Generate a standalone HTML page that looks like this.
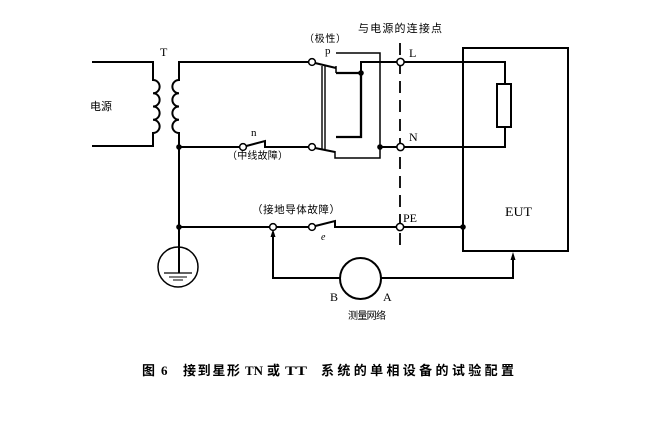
<!DOCTYPE html>
<html>
<head>
<meta charset="utf-8">
<style>
html,body{margin:0;padding:0;background:#fff;}
svg{display:block;}
.cjk{font-family:"Liberation Sans","Noto Sans CJK SC","WenQuanYi Zen Hei",sans-serif;}
.ser{font-family:"Liberation Serif","DejaVu Serif",serif;}
</style>
</head>
<body>
<svg width="666" height="431" viewBox="0 0 666 431" xmlns="http://www.w3.org/2000/svg">
<g fill="none" stroke="#000" stroke-width="2" stroke-linejoin="miter">
  <path d="M92,62 H153 V80 a6.6,6.6 0 0 1 0,13.25 a6.6,6.6 0 0 1 0,13.25 a6.6,6.6 0 0 1 0,13.25 a6.6,6.6 0 0 1 0,13.25 V146 H92"/>
  <path d="M308.5,62 H179 V80 a6.6,6.6 0 0 0 0,13.25 a6.6,6.6 0 0 0 0,13.25 a6.6,6.6 0 0 0 0,13.25 a6.6,6.6 0 0 0 0,13.25 V227"/>
  <path d="M179,147 H239.5"/>
  <path d="M246.3,146 L265,141 V147 H308.5"/>
  <path d="M315,63 L336,68"/>
  <path d="M336,66 V73" stroke-width="1.5"/>
  <path d="M336,73 H361 V137 H336" stroke-width="2.3"/>
  <path d="M361,73 V62 H396.5"/>
  <path d="M336,53 H380 V158 H335 V151" stroke-width="1.5"/>
  <path d="M315,148 L335,152"/>
  <path d="M380,147 H396.5"/>
  <path d="M322,66 V150 M325,66 V150" stroke-width="1.4"/>
  <path d="M400,43 V248" stroke-width="1.8" stroke-dasharray="12 7"/>
  <path d="M404.5,62 H505 V84"/>
  <rect x="497" y="84" width="14" height="43"/>
  <path d="M505,127 V147 H404.5"/>
  <rect x="463" y="48" width="105" height="203"/>
  <path d="M179,227 H269.5"/>
  <path d="M276.5,227 H308.5"/>
  <path d="M315.3,226 L335,221 V227 H396.5"/>
  <path d="M403.5,227 H463"/>
  <path d="M273,236 V278 H340"/>
  <circle cx="360.5" cy="278.5" r="20.5"/>
  <path d="M381,278 H513 V257"/>
  <path d="M179,227 V273"/>
  <circle cx="178" cy="267" r="20" stroke-width="1.5"/>
  <path d="M164,273 H192" stroke-width="1.3"/>
  <path d="M169,277 H187" stroke-width="1"/>
  <path d="M173,280 H183" stroke-width="1"/>
</g>
<g fill="#fff" stroke="#000" stroke-width="1.5">
  <circle cx="243" cy="147" r="3.4"/>
  <circle cx="312" cy="147" r="3.4"/>
  <circle cx="312" cy="62" r="3.4"/>
  <circle cx="400.5" cy="62" r="3.6"/>
  <circle cx="400.5" cy="147" r="3.6"/>
  <circle cx="273" cy="227" r="3.4"/>
  <circle cx="312" cy="227" r="3.4"/>
  <circle cx="400" cy="227" r="3.6"/>
</g>
<g fill="#000">
  <circle cx="179" cy="147" r="2.8"/>
  <circle cx="179" cy="227" r="2.8"/>
  <circle cx="361" cy="73" r="2.8"/>
  <circle cx="380" cy="147" r="2.8"/>
  <circle cx="463" cy="227" r="2.8"/>
  <path d="M273,229 L270.5,237 L275.5,237 Z"/>
  <path d="M513,252 L510.5,260 L515.5,260 Z"/>
</g>
<g fill="#000">
  <text class="ser" x="160" y="56" font-size="12">T</text>
  <text class="cjk" x="90" y="110" font-size="11" textLength="22" lengthAdjust="spacing">电源</text>
  <text class="ser" x="251" y="136" font-size="11">n</text>
  <text class="cjk" x="227" y="159" font-size="10" textLength="61" lengthAdjust="spacing">（中线故障）</text>
  <text class="ser" x="325" y="54" font-size="11">p</text>
  <text class="cjk" x="304" y="42" font-size="10" textLength="42" lengthAdjust="spacing">（极性）</text>
  <text class="cjk" x="358" y="32" font-size="11" textLength="84" lengthAdjust="spacing">与电源的连接点</text>
  <text class="ser" x="409" y="57" font-size="12">L</text>
  <text class="ser" x="409" y="141" font-size="12">N</text>
  <text class="ser" x="403" y="222" font-size="12">PE</text>
  <text class="ser" x="321" y="240" font-size="10" font-style="italic">e</text>
  <text class="cjk" x="252" y="213" font-size="10.5" textLength="88" lengthAdjust="spacing">（接地导体故障）</text>
  <text class="ser" x="505" y="216" font-size="12.5" textLength="27" lengthAdjust="spacingAndGlyphs">EUT</text>
  <text class="ser" x="330" y="301" font-size="12">B</text>
  <text class="ser" x="383" y="301" font-size="12">A</text>
  <text class="cjk" x="348" y="319" font-size="10" textLength="38" lengthAdjust="spacing">测量网络</text>
  <g class="cjk" font-size="13" font-weight="bold">
    <text x="142" y="375">图</text>
    <text x="161" y="375" class="ser" font-weight="bold">6</text>
    <text x="183" y="375" textLength="57" lengthAdjust="spacing">接到星形</text>
    <text x="245" y="375" class="ser" font-weight="bold" textLength="18" lengthAdjust="spacingAndGlyphs">TN</text>
    <text x="267" y="375">或</text>
    <text x="285" y="375" class="ser" font-weight="bold" textLength="22" lengthAdjust="spacingAndGlyphs">TT</text>
    <text x="321" y="375" textLength="193" lengthAdjust="spacing">系统的单相设备的试验配置</text>
  </g>
</g>
</svg>
</body>
</html>
